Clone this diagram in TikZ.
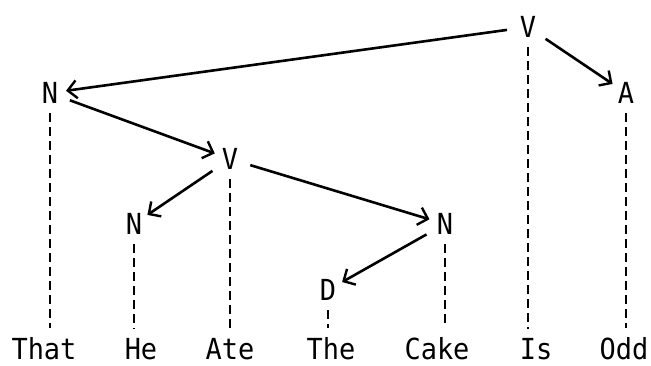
\documentclass[tikz,border=0pt]{standalone}
\usepackage{fontspec}
\setmonofont[FakeStretch=0.93]{DejaVu Sans Mono}
\usetikzlibrary{arrows.meta}
\begin{document}
\begin{tikzpicture}[x=1pt,y=-1pt]
    \tikzstyle{cat}=[circle,inner sep=0pt,minimum size=32pt,font=\fontsize{29}{30}\selectfont\ttfamily];
    \tikzstyle{word}=[inner sep=0pt,anchor=base,font=\fontsize{29}{30}\selectfont\ttfamily];
    \tikzstyle{dep}=[line width=2.6pt,shorten <=5pt,-{Straight Barb[length=9pt,width=18pt,line width=2.4pt]}];
    \tikzstyle{proj}=[line width=2pt,dash pattern=on 9pt off 5pt,shorten <=4pt,shorten >=9pt];
    \useasboundingbox (0,0) rectangle (651,366);

    % categories
    \node (v1) [cat] at (528,27) {V};
    \node (a1) [cat] at (626,93) {A};
    \node (n1) [cat] at (50,93) {N};
    \node (v2) [cat] at (230,159) {V};
    \node (n2) [cat] at (134,224) {N};
    \node (n3) [cat] at (445,224) {N};
    \node (d1) [cat] at (328,290) {D};

    % words
    \node (w1) [word] at (44,359) {That};
    \node (w2) [word] at (141,359) {He};
    \node (w3) [word] at (230,359) {Ate};
    \node (w4) [word] at (331,359) {The};
    \node (w5) [word] at (437,359) {Cake};
    \node (w6) [word] at (536,359) {Is};
    \node (w7) [word] at (624,359) {Odd};

    \draw [dep] (v1) -- (n1);
    \draw [dep] (v1) -- (a1);
    \draw [dep] (n1) -- (v2);
    \draw [dep] (v2) -- (n2);
    \draw [dep] (v2) -- (n3);
    \draw [dep] (n3) -- (d1);

    \foreach \c/\w in {n1/w1,n2/w2,v2/w3,d1/w4,n3/w5,v1/w6,a1/w7}{
        \draw [proj] (\c.south) -- (\c.south |- \w.north);
    }

\end{tikzpicture}
\end{document}
